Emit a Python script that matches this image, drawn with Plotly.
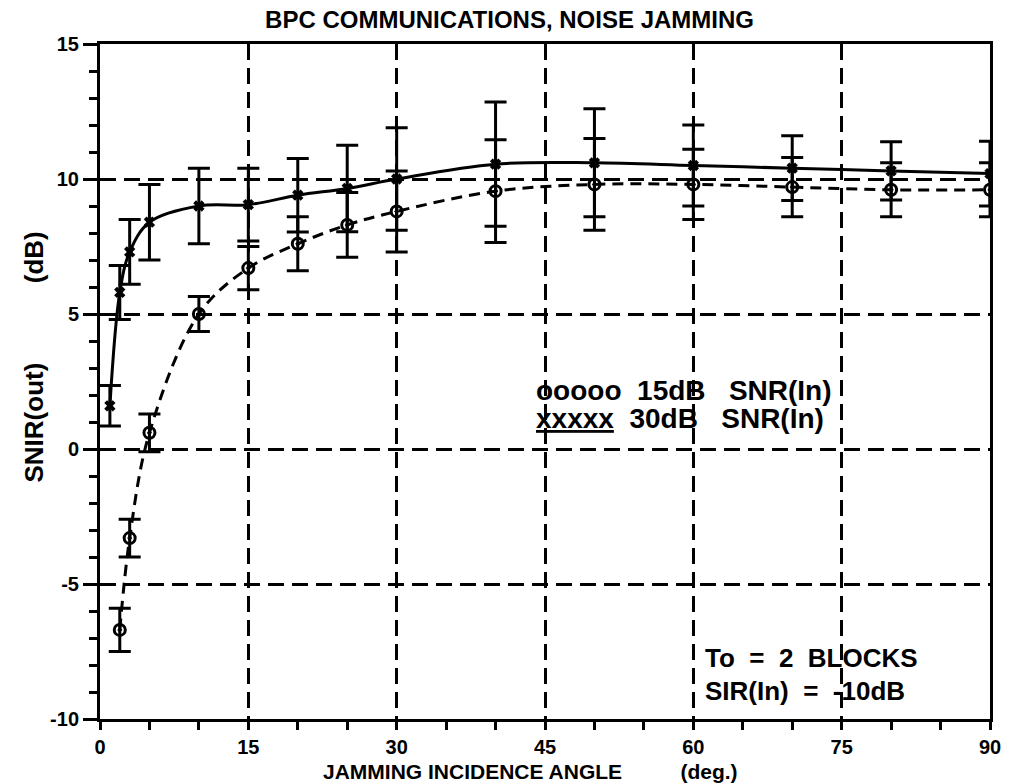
import plotly.graph_objects as go

# SNIR(out) versus jamming incidence angle, two input SNR levels
angle_30 = [1, 2, 3, 5, 10, 15, 20, 25, 30, 40, 50, 60, 70, 80, 90]
snir_30 = [1.6, 5.8, 7.3, 8.4, 9.0, 9.05, 9.4, 9.65, 10.0, 10.55, 10.6, 10.5, 10.4, 10.3, 10.2]
err_30 = [0.75, 1.0, 1.2, 1.4, 1.4, 1.35, 1.36, 1.6, 1.9, 2.3, 2.0, 1.5, 1.2, 1.08, 1.2]

angle_15 = [2, 3, 5, 10, 15, 20, 25, 30, 40, 50, 60, 70, 80, 90]
snir_15 = [-6.7, -3.3, 0.6, 5.0, 6.7, 7.6, 8.3, 8.8, 9.55, 9.8, 9.8, 9.7, 9.6, 9.6]
err_15 = [0.8, 0.7, 0.7, 0.65, 0.8, 1.0, 1.2, 1.5, 1.9, 1.7, 1.3, 1.1, 1.0, 1.0]

x_ticks = [0, 15, 30, 45, 60, 75, 90]
x_tick_text = ["0", "15", "30", "45", "60", "75", "90"]
y_ticks = [-10, -5, 0, 5, 10, 15]
y_tick_text = ["-10", "-5", "0", "5", "10", "15"]

FONT = "Liberation Sans, Arial, sans-serif"
INK = "black"
NB = "\u00a0"

fig = go.Figure()

fig.add_trace(go.Scatter(
    x=angle_15, y=snir_15, mode="lines+markers", name="15dB SNR(In)",
    line=dict(color=INK, width=3, dash="11px,7px", shape="spline", smoothing=1.0),
    marker=dict(symbol="circle-open-dot", size=11, color=INK, line=dict(width=3, color=INK)),
    error_y=dict(type="data", array=err_15, visible=True, color=INK, thickness=3, width=11),
    showlegend=False,
))

fig.add_trace(go.Scatter(
    x=angle_30, y=snir_30, mode="lines+markers", name="30dB SNR(In)",
    line=dict(color=INK, width=3, shape="spline", smoothing=1.0),
    marker=dict(symbol="x", size=10, color=INK, line=dict(width=0)),
    error_y=dict(type="data", array=err_30, visible=True, color=INK, thickness=3, width=11),
    showlegend=False,
))

axis_common = dict(
    showline=True, linecolor=INK, linewidth=3, mirror=True,
    showgrid=True, gridcolor=INK, gridwidth=3, griddash="16px,8px",
    zeroline=False, ticks="outside", tickcolor=INK, tickwidth=3,
    tickfont=dict(family=FONT, size=20, color=INK, weight="bold"),
)

fig.update_xaxes(
    range=[0, 90], tickmode="array", tickvals=x_ticks, ticktext=x_tick_text, ticklen=8,
    minor=dict(dtick=5, tick0=0, ticks="outside", ticklen=8, tickwidth=3, tickcolor=INK, showgrid=False),
    **axis_common,
)
fig.update_yaxes(
    range=[-10, 15], tickmode="array", tickvals=y_ticks, ticktext=y_tick_text, ticklen=14,
    minor=dict(dtick=1, tick0=0, ticks="outside", ticklen=8, tickwidth=3, tickcolor=INK, showgrid=False),
    **axis_common,
)

key_font = dict(family=FONT, size=28, color=INK, weight="bold")
note_font = dict(family=FONT, size=26, color=INK, weight="bold")
xtitle_font = dict(family=FONT, size=21, color=INK, weight="bold")
ytitle_font = dict(family=FONT, size=26, color=INK, weight="bold")

annotations = [
    # in-plot key
    dict(x=43.85, y=2.15, xref="x", yref="y", xanchor="left", yanchor="middle",
         text="ooooo" + NB * 2 + "15dB" + NB * 3 + "SNR(In)", showarrow=False, font=key_font),
    dict(x=43.85, y=1.12, xref="x", yref="y", xanchor="left", yanchor="middle",
         text="<u>xxxxx</u>" + NB * 2 + "30dB" + NB * 3 + "SNR(In)", showarrow=False, font=key_font),
    # run conditions
    dict(x=61.0, y=-7.74, xref="x", yref="y", xanchor="left", yanchor="middle",
         text="To" + NB * 2 + "=" + NB * 2 + "2" + NB * 2 + "BLOCKS", showarrow=False, font=note_font),
    dict(x=61.0, y=-8.96, xref="x", yref="y", xanchor="left", yanchor="middle",
         text="SIR(In)" + NB * 2 + "=" + NB * 2 + "-10dB", showarrow=False, font=note_font),
    # axis titles
    dict(x=(323 - 100) / 897, y=-(771 - 719) / 675, xref="paper", yref="paper",
         xanchor="left", yanchor="middle", showarrow=False, font=xtitle_font,
         text="JAMMING INCIDENCE ANGLE" + NB * 10 + "(deg.)"),
    dict(x=-67 / 897, y=(719 - 357) / 675, xref="paper", yref="paper",
         xanchor="center", yanchor="middle", showarrow=False, font=ytitle_font, textangle=-90,
         text="SNIR(out)" + NB * 11 + "(dB)"),
]

fig.update_layout(
    width=1013, height=784, autosize=False,
    margin=dict(l=100, r=16, t=44, b=65, pad=0),
    paper_bgcolor="white", plot_bgcolor="white",
    title=dict(text="BPC COMMUNICATIONS, NOISE JAMMING", x=0.503, xref="container",
               xanchor="center", y=1 - 20 / 784, yref="container", yanchor="middle",
               font=dict(family=FONT, size=24, color=INK, weight="bold")),
    annotations=annotations,
    hovermode=False,
)

fig.write_html("out.html")
